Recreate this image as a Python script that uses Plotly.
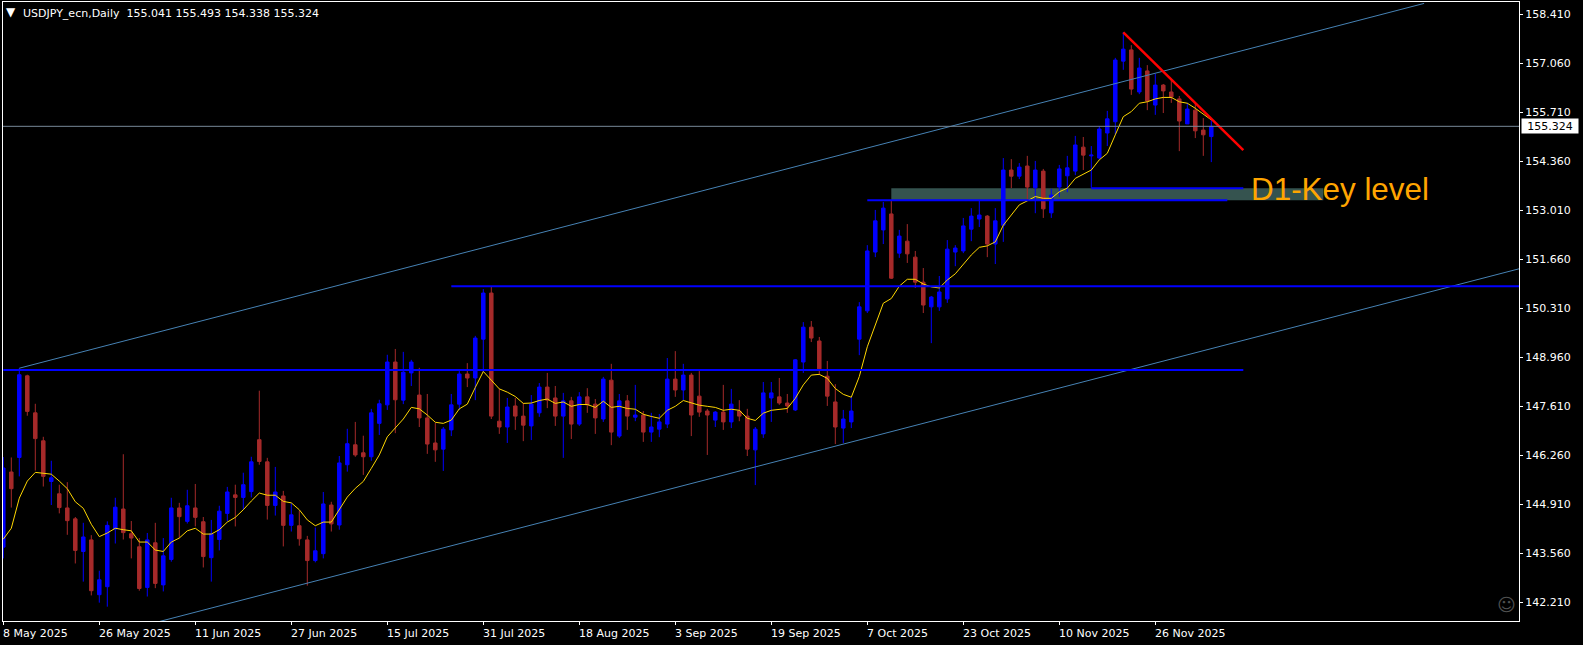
import plotly.graph_objects as go

# Daily bars, in chart order (non-trading days are skipped by the bar index)
opens = [143.73,145.80,146.20,148.45,147.43,146.66,145.54,145.20,144.81,144.51,
         143.61,143.93,142.42,142.64,144.23,144.78,144.10,143.74,142.62,143.85,
         142.69,143.39,144.81,144.44,144.81,144.43,143.44,143.94,144.66,145.17,
         145.10,145.26,146.69,146.08,144.88,145.14,144.33,144.32,143.93,143.36,
         143.55,144.89,144.34,146.00,146.55,146.33,146.22,147.14,147.65,148.83,
         147.78,148.53,147.92,147.29,146.60,146.43,146.96,147.67,148.50,148.39,
         149.46,150.73,147.20,147.04,147.62,147.34,147.07,147.43,148.14,147.84,
         147.34,147.76,147.12,147.87,147.67,147.26,148.33,146.79,147.76,147.31,
         147.37,146.90,146.98,147.12,148.36,148.06,148.47,147.89,147.48,147.23,
         147.45,147.18,147.48,147.34,146.41,146.85,147.84,147.87,147.70,147.51,
         148.83,149.79,149.41,148.44,147.73,147.01,147.18,149.46,150.24,151.86,
         152.47,152.91,151.83,152.16,151.72,151.03,150.35,150.35,150.57,151.86,
         151.89,152.49,152.77,152.85,152.08,152.60,154.12,153.95,154.23,153.63,
         154.09,152.94,153.65,153.96,154.09,154.75,154.51,154.45,155.14,155.45,
         157.12,157.43,156.27,156.85,155.91,156.46,156.27,156.08,155.39,155.77,
         155.22,155.041]
highs = [146.21,146.20,148.66,148.48,147.68,146.77,146.11,145.45,145.52,144.56,
         144.40,144.06,143.08,144.44,145.09,146.29,144.45,143.98,144.12,144.40,
         143.98,145.09,144.95,145.31,145.47,144.56,144.48,144.87,145.39,145.45,
         145.78,146.22,148.04,146.19,145.94,145.28,144.94,144.73,144.04,144.27,
         145.25,144.98,146.24,146.99,147.18,146.80,147.54,147.79,149.03,149.19,
         149.11,148.89,148.67,147.95,147.15,147.04,147.95,148.58,148.80,149.55,
         150.84,150.90,148.09,147.84,147.84,147.70,147.92,148.25,148.53,148.17,
         147.98,147.87,148.00,148.11,147.81,148.42,148.78,147.95,147.92,148.20,
         147.48,147.43,147.40,148.94,149.13,148.78,148.53,148.58,147.54,147.48,
         148.20,148.09,147.78,147.54,147.04,148.28,148.28,148.39,147.95,148.91,
         149.93,149.96,149.52,148.86,148.22,147.51,147.87,150.48,152.05,153.02,
         153.24,153.29,152.47,152.63,151.89,151.42,150.65,151.20,152.19,152.05,
         152.80,153.07,153.27,152.88,153.07,154.45,154.42,154.31,154.51,154.37,
         154.15,153.60,154.26,154.51,155.06,155.03,154.78,155.33,155.75,157.21,
         157.92,157.56,157.21,157.01,156.77,156.49,156.60,156.16,155.97,155.94,
         155.55,155.493]
lows = [143.42,144.82,145.68,147.35,145.84,145.40,144.89,144.66,144.07,143.28,
        142.78,142.40,142.20,142.09,143.83,143.94,143.42,142.53,142.37,142.60,
        142.51,143.33,143.98,144.38,144.30,143.17,142.78,143.64,144.44,144.30,
        144.76,145.10,146.00,144.49,144.60,143.75,144.16,143.77,142.67,143.31,
        143.42,144.16,144.21,145.81,146.22,145.72,146.11,146.82,147.51,146.87,
        147.67,148.17,147.04,146.30,146.08,145.83,146.79,147.51,148.14,147.78,
        148.55,147.26,146.85,146.60,146.96,146.65,146.68,147.32,147.56,147.07,
        146.19,146.71,147.07,147.43,146.85,147.18,146.54,146.74,146.96,147.20,
        146.63,146.63,146.76,147.01,147.87,147.78,146.79,147.32,146.27,147.04,
        146.96,147.01,147.20,146.24,145.44,146.74,147.18,147.65,147.43,147.48,
        148.53,149.38,148.47,147.62,146.57,146.60,147.01,149.02,150.18,151.72,
        152.08,151.12,151.70,151.56,150.87,150.18,149.35,150.24,150.46,151.47,
        151.83,152.16,152.55,151.72,151.53,152.14,153.62,153.87,153.27,152.93,
        152.80,152.80,153.38,153.51,153.98,154.12,153.63,154.40,154.78,155.09,
        156.88,156.19,156.21,155.77,155.64,155.69,155.97,154.64,155.39,155.00,
        154.51,154.338]
closes = [145.91,145.34,148.48,147.47,146.72,145.68,145.64,144.82,144.46,143.64,
          144.01,142.53,142.83,144.33,144.83,144.13,143.98,142.59,143.93,142.73,
          143.49,144.81,144.57,144.87,144.55,143.47,144.10,144.72,145.25,145.10,
          145.45,146.08,146.09,144.88,145.25,144.33,144.62,143.96,143.36,143.63,
          144.92,144.37,146.05,146.58,146.27,146.22,147.43,147.68,148.83,147.79,
          148.55,148.83,147.29,146.57,146.41,146.98,147.65,148.50,148.39,149.49,
          150.73,147.34,147.04,147.59,147.34,147.09,147.67,148.14,147.78,147.34,
          147.76,147.12,147.87,147.65,147.29,148.36,146.90,147.76,147.34,147.37,
          146.90,147.04,147.18,148.36,148.06,148.47,147.37,147.45,147.37,147.45,
          147.18,147.67,147.34,146.43,146.98,147.98,147.98,147.70,147.62,148.89,
          149.79,149.49,148.64,147.89,147.04,147.26,147.48,150.35,151.89,152.72,
          153.07,151.14,152.30,151.81,151.03,150.40,150.62,150.76,151.94,151.97,
          152.58,152.85,152.88,152.08,152.72,154.12,153.95,154.20,153.65,154.12,
          153.05,153.43,154.15,154.18,154.81,154.53,154.53,155.25,155.53,157.15,
          157.45,156.35,156.93,156.02,156.46,156.30,156.13,155.47,155.80,155.20,
          155.09,155.324]
moving_average = [143.95,144.25,145.08,145.55,145.79,145.77,145.74,145.55,145.34,144.98,
                  144.80,144.36,144.02,144.12,144.25,144.21,144.18,143.87,143.87,143.65,
                  143.61,143.87,143.98,144.18,144.25,144.09,144.09,144.21,144.42,144.55,
                  144.76,145.00,145.22,145.16,145.16,144.99,144.95,144.76,144.48,144.32,
                  144.42,144.42,144.76,145.11,145.35,145.54,145.90,146.27,146.77,147.01,
                  147.26,147.58,147.54,147.37,147.17,147.14,147.23,147.54,147.67,148.13,
                  148.57,148.33,148.09,148.00,147.88,147.69,147.70,147.77,147.81,147.69,
                  147.73,147.61,147.66,147.66,147.58,147.75,147.58,147.61,147.55,147.53,
                  147.39,147.33,147.28,147.50,147.61,147.77,147.70,147.64,147.61,147.58,
                  147.50,147.53,147.50,147.28,147.22,147.42,147.50,147.53,147.55,147.83,
                  148.20,148.47,148.49,148.38,148.10,147.94,147.86,148.43,149.25,149.85,
                  150.45,150.58,150.92,151.11,151.11,150.98,150.90,150.87,151.09,151.26,
                  151.53,151.78,151.99,152.03,152.14,152.60,152.88,153.16,153.27,153.39,
                  153.34,153.34,153.52,153.62,153.89,154.01,154.12,154.40,154.58,155.09,
                  155.59,155.73,155.96,156.00,156.08,156.12,156.12,156.00,155.96,155.82,
                  155.65,155.50]

# Axis text
date_tick_bars = [0,12,24,36,48,60,72,84,96,108,120,132,144]
date_tick_labels = ["8 May 2025","26 May 2025","11 Jun 2025","27 Jun 2025","15 Jul 2025",
                    "31 Jul 2025","18 Aug 2025","3 Sep 2025","19 Sep 2025","7 Oct 2025",
                    "23 Oct 2025","10 Nov 2025","26 Nov 2025"]
price_ticks = [158.41,157.06,155.71,154.36,153.01,151.66,150.31,148.96,147.61,146.26,144.91,143.56,142.21]

# Drawn objects: (bar, price) anchors
channel_upper_bars, channel_upper_prices = [2, 177.6], [148.66, 158.71]
channel_lower_bars, channel_lower_prices = [19.5, 189.5], [141.68, 151.40]
level_a_bars, level_a_prices = [0, 155], [148.61, 148.61]
level_b_bars, level_b_prices = [56, 189.5], [150.92, 150.92]
level_c_bars, level_c_prices = [108, 153], [153.29, 153.29]
level_d_bars, level_d_prices = [136, 155], [153.62, 153.62]
downtrend_bars, downtrend_prices = [140, 155], [157.91, 154.67]
zone_bars, zone_prices = [111, 165], [153.29, 153.62]
last_price = 155.324

WHITE = "#ffffff"
FONT = "DejaVu Sans"
bars = list(range(len(opens)))

fig = go.Figure()
fig.add_shape(type="rect", x0=zone_bars[0], x1=zone_bars[1], y0=zone_prices[0], y1=zone_prices[1],
              fillcolor="#35534f", line_width=0, layer="below")

def line(x, y, color, width):
    fig.add_trace(go.Scatter(x=x, y=y, mode="lines", line=dict(color=color, width=width),
                             hoverinfo="skip", showlegend=False))

fig.add_trace(go.Candlestick(
    x=bars, open=opens, high=highs, low=lows, close=closes,
    increasing=dict(line=dict(color="#0000ff", width=1), fillcolor="#0000ff"),
    decreasing=dict(line=dict(color="#a52a2a", width=1), fillcolor="#a52a2a"),
    whiskerwidth=0, showlegend=False))
line(bars, moving_average, "#ffd700", 1)
line(channel_upper_bars, channel_upper_prices, "#4682b4", 1)
line(channel_lower_bars, channel_lower_prices, "#4682b4", 1)
line(level_a_bars, level_a_prices, "#0000ff", 2)
line(level_b_bars, level_b_prices, "#0000ff", 2)
line(level_c_bars, level_c_prices, "#0000ff", 2)
line(level_d_bars, level_d_prices, "#0000ff", 2)
line(downtrend_bars, downtrend_prices, "#ff0000", 2.5)
line([-1, 190], [last_price, last_price], "#778899", 1)

annotations = [
    dict(x=0, y=1, xref="paper", yref="paper", xshift=1, yshift=-1, xanchor="left", yanchor="top",
         text="▼", showarrow=False, font=dict(family=FONT, size=12, color=WHITE)),
    dict(x=0, y=1, xref="paper", yref="paper", xshift=18, yshift=-3, xanchor="left", yanchor="top",
         text="USDJPY_ecn,Daily&nbsp;&nbsp;155.041 155.493 154.338 155.324", showarrow=False,
         font=dict(family=FONT, size=11, color=WHITE)),
    dict(x=155.75, y=153.57, xref="x", yref="y", xanchor="left", yanchor="middle",
         text="D1-Key level", showarrow=False,
         font=dict(family="Liberation Sans", size=31.4, color="#ffa500")),
    dict(x=1, y=last_price, xref="paper", yref="y", xshift=2, xanchor="left", yanchor="middle",
         text=f"{last_price:.3f}", showarrow=False, bgcolor=WHITE, width=56, height=14, borderpad=0,
         font=dict(family=FONT, size=11, color="#000000")),
    dict(x=1, y=0, xref="paper", yref="paper", xshift=-13, yshift=17, xanchor="center", yanchor="middle",
         text="☺", showarrow=False, font=dict(family=FONT, size=18, color="#505050")),
]
for b, label in zip(date_tick_bars, date_tick_labels):
    annotations.append(dict(x=b, y=0, xref="x", yref="paper", xanchor="left", yanchor="top",
                            xshift=-2, yshift=-4, text=label, showarrow=False,
                            font=dict(family=FONT, size=11, color=WHITE)))

fig.update_layout(
    width=1583, height=645, margin=dict(l=3, r=64, t=2, b=24),
    paper_bgcolor="#000000", plot_bgcolor="#000000", showlegend=False, boxgap=0.38,
    hovermode=False, annotations=annotations,
    xaxis=dict(range=[-0.0375, 189.4625], rangeslider=dict(visible=False), showgrid=False, zeroline=False,
               tickmode="array", tickvals=date_tick_bars, ticktext=[""] * len(date_tick_bars),
               ticks="outside", ticklen=3, tickcolor=WHITE, tickwidth=1,
               showline=True, linecolor=WHITE, linewidth=1, mirror=True),
    yaxis=dict(range=[141.695, 158.749], side="right", showgrid=False, zeroline=False,
               tickmode="array", tickvals=price_ticks, ticktext=[f"{p:.3f}" for p in price_ticks],
               ticks="outside", ticklen=3, tickcolor=WHITE, tickwidth=1,
               tickfont=dict(family=FONT, size=11, color=WHITE),
               showline=True, linecolor=WHITE, linewidth=1, mirror=True),
)
fig.write_html("out.html", config=dict(displayModeBar=False),
               post_script="document.body.style.margin='0';document.documentElement.style.overflow='hidden';")
